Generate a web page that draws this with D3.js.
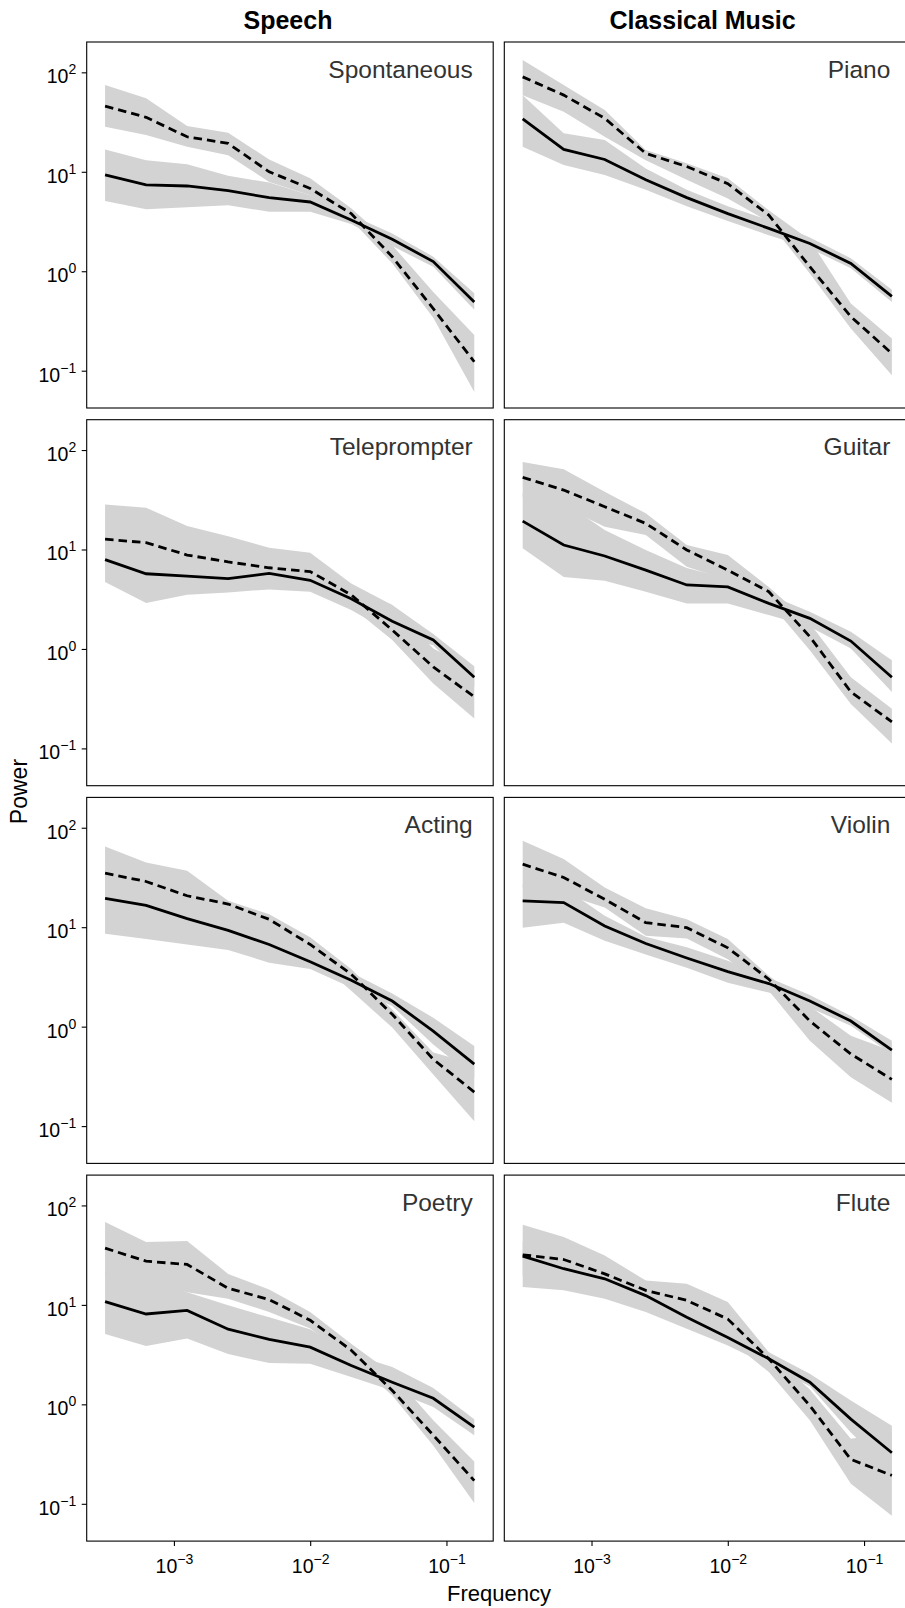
<!DOCTYPE html>
<html>
<head>
<meta charset="utf-8">
<script src="https://cdn.jsdelivr.net/npm/d3@7"></script>
<style>
  body { margin: 0; background: #fff; }
  svg { display: block; font-family: "Liberation Sans", Arial, Helvetica, sans-serif; }
</style>
</head>
<body>
<div id="chart"></div>
<script>
// frequencies (doubling steps)
var freq = [0.0003125, 0.000625, 0.00125, 0.0025, 0.005, 0.01, 0.02, 0.04, 0.08, 0.16];

var columns = ["Speech", "Classical Music"];
var yTicks = [0.1, 1, 10, 100];
var xTicks = [0.001, 0.01, 0.1];

// Speech
var spontaneousSolid   = [9.3, 7.4, 7.2, 6.45, 5.5, 4.97, 3.27, 2.1, 1.25, 0.49];
var spontaneousSolidLo = [5.1, 4.2, 4.4, 4.6, 3.97, 3.97, 2.98, 1.79, 1.11, 0.41];
var spontaneousSolidHi = [16.8, 13.1, 11.9, 9.1, 7.8, 5.8, 3.67, 2.4, 1.4, 0.6];
var spontaneousDash    = [45.8, 35.3, 22.5, 19.3, 10.0, 6.8, 3.8, 1.4, 0.42, 0.123];
var spontaneousDashLo  = [28.4, 23.4, 17.9, 14.7, 7.9, 5.8, 3.27, 1.2, 0.34, 0.061];
var spontaneousDashHi  = [74.6, 54.8, 28.9, 24.7, 13.3, 8.6, 4.3, 1.83, 0.62, 0.228];

var promptSolid   = [7.9, 5.7, 5.4, 5.1, 5.75, 4.9, 3.2, 1.9, 1.23, 0.52];
var promptSolidLo = [4.7, 2.9, 3.5, 3.7, 3.97, 3.76, 2.46, 1.43, 1.09, 0.42];
var promptSolidHi = [11.5, 9.9, 8.5, 7.8, 8.1, 6.7, 4.2, 2.76, 1.41, 0.67];
var promptDash    = [12.7, 11.7, 8.8, 7.5, 6.55, 6.0, 3.5, 1.55, 0.66, 0.33];
var promptDashLo  = [6.7, 5.3, 4.56, 4.2, 4.56, 4.2, 2.65, 1.23, 0.45, 0.2];
var promptDashHi  = [28.4, 26.3, 17.2, 13.6, 10.4, 9.3, 4.56, 2.76, 1.01, 0.61];

var actingSolid   = [19.5, 16.6, 12.2, 9.3, 6.7, 4.5, 2.93, 1.81, 0.9, 0.42];
var actingSolidLo = [8.6, 7.6, 6.7, 5.9, 4.4, 3.8, 2.47, 1.61, 0.66, 0.31];
var actingSolidHi = [36.9, 27.1, 19.9, 13.5, 9.5, 5.8, 3.5, 2.15, 1.23, 0.64];
var actingDash    = [35, 28.8, 20.7, 17.1, 12.0, 6.7, 3.37, 1.33, 0.47, 0.22];
var actingDashLo  = [19.9, 18.4, 12.5, 11.6, 9.2, 5.3, 2.29, 0.98, 0.33, 0.112];
var actingDashHi  = [64.9, 44.8, 36.9, 18.4, 13.5, 7.9, 3.8, 1.49, 0.55, 0.42];

var poetrySolid   = [10.8, 8.1, 8.8, 5.7, 4.5, 3.76, 2.46, 1.67, 1.15, 0.59];
var poetrySolidLo = [5.1, 3.85, 4.6, 3.2, 2.6, 2.56, 1.88, 1.38, 0.94, 0.49];
var poetrySolidHi = [21.4, 19.8, 13.4, 9.9, 7.5, 5.7, 3.2, 2.37, 1.46, 0.71];
var poetryDash    = [37.2, 27.5, 25.5, 14.7, 11.3, 7.0, 3.5, 1.38, 0.49, 0.171];
var poetryDashLo  = [19.8, 17.6, 13.4, 11.5, 8.5, 5.8, 2.87, 1.23, 0.385, 0.102];
var poetryDashHi  = [68, 42.8, 43.8, 20.5, 14.3, 8.5, 4.06, 2.03, 0.69, 0.266];

// Classical music
var pianoSolid   = [34.0, 16.8, 13.3, 8.3, 5.5, 3.8, 2.7, 1.9, 1.2, 0.56];
var pianoSolidLo = [17.9, 11.7, 9.3, 6.6, 4.5, 3.2, 2.3, 1.7, 1.07, 0.49];
var pianoSolidHi = [59, 24.4, 20.9, 10.8, 6.6, 4.5, 3.27, 2.19, 1.35, 0.65];
var pianoDash    = [90, 59, 34.5, 15.3, 11.3, 7.6, 3.67, 1.11, 0.35, 0.149];
var pianoDashLo  = [59, 40.2, 22.5, 13.1, 8.3, 5.4, 3.15, 0.95, 0.266, 0.09];
var pianoDashHi  = [133, 74.6, 41.8, 16.6, 12.2, 8.6, 4.1, 2.06, 0.475, 0.211];

var guitarSolid   = [19.3, 11.1, 8.6, 6.2, 4.4, 4.2, 2.87, 2.03, 1.2, 0.52];
var guitarSolidLo = [10.3, 5.3, 4.85, 3.76, 2.87, 2.87, 2.19, 1.67, 1.01, 0.37];
var guitarSolidHi = [36.7, 30, 15.7, 9.9, 6.5, 5.1, 3.5, 2.37, 1.49, 0.77];
var guitarDash    = [53, 39.6, 26.9, 18.3, 9.9, 6.2, 3.76, 1.33, 0.37, 0.185];
var guitarDashLo  = [34, 26.9, 16.9, 14.0, 6.7, 4.9, 2.98, 0.97, 0.28, 0.112];
var guitarDashHi  = [76, 64, 38.1, 23.1, 11.1, 8.8, 4.2, 1.81, 0.52, 0.25];

var violinSolid   = [18.4, 17.7, 10.3, 6.85, 4.9, 3.58, 2.71, 1.81, 1.14, 0.58];
var violinSolidLo = [9.9, 11.1, 7.3, 5.3, 3.9, 2.77, 2.2, 1.55, 1.02, 0.53];
var violinSolidHi = [27.1, 25.1, 13.0, 8.0, 6.3, 4.6, 3.1, 2.08, 1.28, 0.72];
var violinDash    = [43, 31.6, 19.1, 11.1, 9.9, 6.2, 3.0, 1.14, 0.53, 0.295];
var violinDashLo  = [25.1, 21.5, 15.8, 8.2, 7.7, 4.76, 2.29, 0.72, 0.31, 0.172];
var violinDashHi  = [74, 48.4, 25.1, 15.5, 12.0, 7.6, 3.24, 1.6, 0.81, 0.57];

var fluteSolid   = [30.9, 23.1, 18.3, 12.4, 7.5, 4.7, 2.87, 1.67, 0.71, 0.326];
var fluteSolidLo = [15.1, 14.0, 11.5, 8.5, 5.75, 3.9, 2.46, 1.52, 0.52, 0.208];
var fluteSolidHi = [42.8, 35.3, 26.9, 17.6, 10.7, 6.2, 3.35, 2.03, 1.09, 0.61];
var fluteDash    = [31.9, 28.6, 20.5, 14.0, 11.1, 7.2, 2.87, 0.97, 0.28, 0.193];
var fluteDashLo  = [19.8, 17.6, 13.4, 9.9, 7.2, 4.56, 2.11, 0.69, 0.159, 0.076];
var fluteDashHi  = [64, 48.1, 31.4, 17.6, 16.3, 10.7, 3.35, 1.41, 0.45, 0.52];

var panels = [
	{name: "Spontaneous", col: 0, row: 0, s: spontaneousSolid, sLo: spontaneousSolidLo, sHi: spontaneousSolidHi, d: spontaneousDash, dLo: spontaneousDashLo, dHi: spontaneousDashHi},
	{name: "Teleprompter", col: 0, row: 1, s: promptSolid, sLo: promptSolidLo, sHi: promptSolidHi, d: promptDash, dLo: promptDashLo, dHi: promptDashHi},
	{name: "Acting", col: 0, row: 2, s: actingSolid, sLo: actingSolidLo, sHi: actingSolidHi, d: actingDash, dLo: actingDashLo, dHi: actingDashHi},
	{name: "Poetry", col: 0, row: 3, s: poetrySolid, sLo: poetrySolidLo, sHi: poetrySolidHi, d: poetryDash, dLo: poetryDashLo, dHi: poetryDashHi},
	{name: "Piano", col: 1, row: 0, s: pianoSolid, sLo: pianoSolidLo, sHi: pianoSolidHi, d: pianoDash, dLo: pianoDashLo, dHi: pianoDashHi},
	{name: "Guitar", col: 1, row: 1, s: guitarSolid, sLo: guitarSolidLo, sHi: guitarSolidHi, d: guitarDash, dLo: guitarDashLo, dHi: guitarDashHi},
	{name: "Violin", col: 1, row: 2, s: violinSolid, sLo: violinSolidLo, sHi: violinSolidHi, d: violinDash, dLo: violinDashLo, dHi: violinDashHi},
	{name: "Flute", col: 1, row: 3, s: fluteSolid, sLo: fluteSolidLo, sHi: fluteSolidHi, d: fluteDash, dLo: fluteDashLo, dHi: fluteDashHi}
];

var w = 905,
	h = 1608,
	colX = [86.7, 504.3],
	pw = 406.5,
	ph = 366,
	rowStep = 377.7,
	top0 = 42;

var svg = d3.select("#chart")
	.append("svg")
	.attr("width", w)
	.attr("height", h);

svg.append("rect").attr("width", w).attr("height", h).attr("fill", "#fff");

var x = d3.scaleLog()
	.domain([Math.pow(10, -3.640), Math.pow(10, -0.657)])
	.range([0, pw]);

var y = d3.scaleLog()
	.domain([Math.pow(10, -1.375), Math.pow(10, 2.305)])
	.range([ph, 0]);

var band = d3.area()
	.x(function(d) { return x(d.f); })
	.y0(function(d) { return y(d.lo); })
	.y1(function(d) { return y(d.hi); });

var line = d3.line()
	.x(function(d) { return x(d.f); })
	.y(function(d) { return y(d.v); });

function rows(vals, lo, hi) {
	return freq.map(function(f, i) {
		return {f: f, v: vals[i], lo: lo[i], hi: hi[i]};
	});
}

// 10^n labels with a raised exponent
function powLabel(sel) {
	sel.each(function(d) {
		var t = d3.select(this).text(null);
		var e = Math.round(Math.log10(d));
		t.append("tspan").text("10");
		t.append("tspan")
			.attr("dy", -9)
			.attr("font-size", 14)
			.text(e < 0 ? "\u2212" + (-e) : e);
	});
}

panels.forEach(function(p) {
	var g = svg.append("g")
		.attr("transform", "translate(" + colX[p.col] + "," + (top0 + p.row * rowStep) + ")");

	var solid = rows(p.s, p.sLo, p.sHi),
		dash = rows(p.d, p.dLo, p.dHi);

	g.append("path").attr("d", band(solid)).attr("fill", "#d3d3d3");
	g.append("path").attr("d", band(dash)).attr("fill", "#d3d3d3");

	g.append("path")
		.attr("d", line(dash))
		.attr("fill", "none")
		.attr("stroke", "#000")
		.attr("stroke-width", 2.8)
		.attr("stroke-dasharray", "8.5,5");

	g.append("path")
		.attr("d", line(solid))
		.attr("fill", "none")
		.attr("stroke", "#000")
		.attr("stroke-width", 2.8);

	g.append("text")
		.attr("x", 386)
		.attr("y", 35.5)
		.attr("text-anchor", "end")
		.attr("font-size", 24.5)
		.attr("fill", "#333")
		.text(p.name);

	g.append("rect")
		.attr("width", pw)
		.attr("height", ph)
		.attr("fill", "none")
		.attr("stroke", "#000")
		.attr("stroke-width", 1.1);

	if (p.col == 0) {
		var ya = g.append("g")
			.call(d3.axisLeft(y).tickValues(yTicks).tickSize(5).tickPadding(5.5).tickFormat(function() { return ""; }))
			.attr("font-family", null)
			.attr("font-size", 19.5);
		ya.select(".domain").remove();
		ya.selectAll(".tick line").attr("stroke", "#000").attr("stroke-width", 1.1);
		ya.selectAll(".tick text")
			.attr("fill", "#000")
			.attr("dy", 10.5)
			.call(powLabel);
	}

	if (p.row == 3) {
		var xa = g.append("g")
			.attr("transform", "translate(0," + ph + ")")
			.call(d3.axisBottom(x).tickValues(xTicks).tickSize(5).tickFormat(function() { return ""; }))
			.attr("font-family", null)
			.attr("font-size", 19.5);
		xa.select(".domain").remove();
		xa.selectAll(".tick line").attr("stroke", "#000").attr("stroke-width", 1.1);
		xa.selectAll(".tick text")
			.attr("fill", "#000")
			.attr("y", 0)
			.attr("dy", 32)
			.call(powLabel);
	}
});

// column strips
svg.selectAll(".strip")
	.data(columns)
	.enter()
	.append("text")
	.attr("class", "strip")
	.attr("x", function(d, i) { return colX[i] + pw / 2 - (i == 1 ? 5 : 2); })
	.attr("y", 29.3)
	.attr("text-anchor", "middle")
	.attr("font-size", 25)
	.attr("font-weight", "bold")
	.attr("fill", "#000")
	.text(function(d) { return d; });

// axis titles
svg.append("text")
	.attr("transform", "translate(26.5," + (top0 + (3 * rowStep + ph) / 2) + ") rotate(-90)")
	.attr("text-anchor", "middle")
	.attr("font-size", 23)
	.attr("fill", "#000")
	.text("Power");

svg.append("text")
	.attr("x", 499)
	.attr("y", 1601)
	.attr("text-anchor", "middle")
	.attr("font-size", 22)
	.attr("fill", "#000")
	.text("Frequency");
</script>
</body>
</html>
